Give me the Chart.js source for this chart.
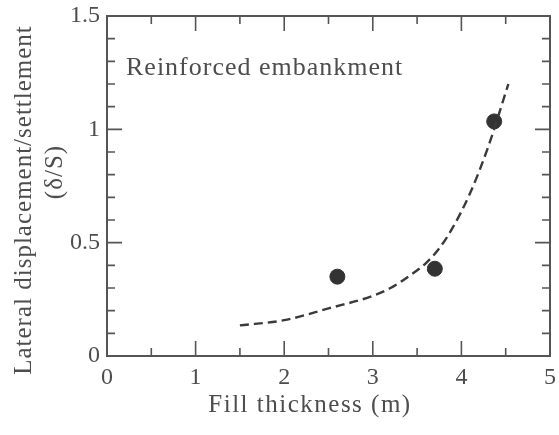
<!DOCTYPE html>
<html>
<head>
<meta charset="utf-8">
<script src="https://cdn.jsdelivr.net/npm/chart.js@4/dist/chart.umd.min.js"></script>
<style>
  html, body { margin: 0; padding: 0; background: #fff; }
  #wrap { width: 559px; height: 435px; }
</style>
</head>
<body>
<div id="wrap"><canvas id="chart"></canvas></div>
<script>
// measured points (filled circles)
const fillThickness = [2.6, 3.7, 4.37];
const ratio = [0.35, 0.385, 1.035];

// dashed trend curve
const trendX = [1.5, 2.0, 2.5, 3.0, 3.2, 3.4, 3.6, 3.75, 3.9, 4.1, 4.3, 4.53];
const trendY = [0.135, 0.158, 0.21, 0.265, 0.30, 0.35, 0.41, 0.475, 0.565, 0.72, 0.92, 1.2];

const xTicks = [0, 1, 2, 3, 4, 5];
const yTicks = [0, 0.5, 1, 1.5];
const xMinorStep = 0.5;
const yMinorStep = 0.1;

const yTitle = ["Lateral displacement/settlement", "(\u03b4/S)"];
const xTitle = "Fill thickness (m)";
const note = "Reinforced embankment";

const ink = "#4d4d4d";
const serif = "'Liberation Serif', 'DejaVu Serif', serif";

// box round the plot, inward ticks on all four sides, titles and the note
const frame = {
    id: "frame",
    afterDraw(chart) {
        const ctx = chart.ctx;
        const a = chart.chartArea;
        const xs = chart.scales.x, ys = chart.scales.y;
        ctx.save();
        ctx.strokeStyle = "#555";
        ctx.lineWidth = 2;
        ctx.strokeRect(a.left, a.top, a.right - a.left, a.bottom - a.top);

        ctx.lineWidth = 1.6;
        ctx.beginPath();
        for (let i = 0; i <= Math.round(xs.max / xMinorStep); i++) {
            const v = i * xMinorStep;
            const px = xs.getPixelForValue(v);
            const len = (i % 2 === 0) ? 15 : 8;
            ctx.moveTo(px, a.bottom); ctx.lineTo(px, a.bottom - len);
            ctx.moveTo(px, a.top); ctx.lineTo(px, a.top + len);
        }
        for (let i = 0; i <= Math.round(ys.max / yMinorStep); i++) {
            const v = i * yMinorStep;
            const py = ys.getPixelForValue(v);
            const len = (i % 5 === 0) ? 15 : 8;
            ctx.moveTo(a.left, py); ctx.lineTo(a.left + len, py);
            ctx.moveTo(a.right, py); ctx.lineTo(a.right - len, py);
        }
        ctx.stroke();

        ctx.fillStyle = ink;
        // note inside the plot
        ctx.font = "26px " + serif;
        ctx.letterSpacing = "1px";
        ctx.textAlign = "left";
        ctx.textBaseline = "alphabetic";
        ctx.fillText(note, a.left + 19, 75);

        // x axis title
        ctx.font = "25px " + serif;
        ctx.letterSpacing = "1.5px";
        ctx.textAlign = "center";
        ctx.textBaseline = "middle";
        ctx.fillText(xTitle, 310, 405);

        // y axis title, two lines
        ctx.letterSpacing = "1px";
        ctx.font = "25px " + serif;
        ctx.save();
        ctx.translate(24, 200);
        ctx.rotate(-Math.PI / 2);
        ctx.fillText(yTitle[0], 0, 0);
        ctx.restore();
        ctx.save();
        ctx.translate(55, 172);
        ctx.rotate(-Math.PI / 2);
        ctx.fillText(yTitle[1], 0, 0);
        ctx.restore();
        ctx.restore();
    }
};

function noEdgePadding(s) {
    s.paddingTop = 0;
    s.paddingBottom = 0;
    s.paddingLeft = 0;
    s.paddingRight = 0;
}

const chart = new Chart(document.getElementById("chart"), {
    type: "scatter",
    data: {
        datasets: [
            {
                label: "trend",
                data: trendX.map((x, i) => ({x: x, y: trendY[i]})),
                showLine: true,
                borderColor: "#3a3a3a",
                borderWidth: 2.4,
                borderDash: [9, 5],
                pointRadius: 0,
                cubicInterpolationMode: "monotone",
                fill: false
            },
            {
                label: "measured",
                data: fillThickness.map((x, i) => ({x: x, y: ratio[i]})),
                pointRadius: 7.5,
                pointBackgroundColor: "#333",
                pointBorderColor: "#333",
                showLine: false
            }
        ]
    },
    options: {
        responsive: true,
        maintainAspectRatio: false,
        animation: false,
        layout: { padding: { top: 16, right: 9, left: 0, bottom: 0 } },
        plugins: {
            legend: { display: false },
            tooltip: { enabled: false }
        },
        scales: {
            x: {
                type: "linear",
                min: 0, max: 5,
                afterFit(s) { s.height = 79; noEdgePadding(s); },
                afterBuildTicks(s) { s.ticks = xTicks.map(v => ({value: v})); },
                grid: { display: false, drawTicks: false },
                border: { display: false },
                ticks: {
                    color: ink,
                    padding: 7,
                    font: { family: serif, size: 24 },
                    callback: v => String(v)
                }
            },
            y: {
                type: "linear",
                min: 0, max: 1.5,
                afterFit(s) { s.width = 107; noEdgePadding(s); },
                afterBuildTicks(s) { s.ticks = yTicks.map(v => ({value: v})); },
                grid: { display: false, drawTicks: false },
                border: { display: false },
                ticks: {
                    color: ink,
                    padding: 7,
                    font: { family: serif, size: 24 },
                    callback: v => String(v)
                }
            }
        }
    },
    plugins: [frame]
});
</script>
</body>
</html>
